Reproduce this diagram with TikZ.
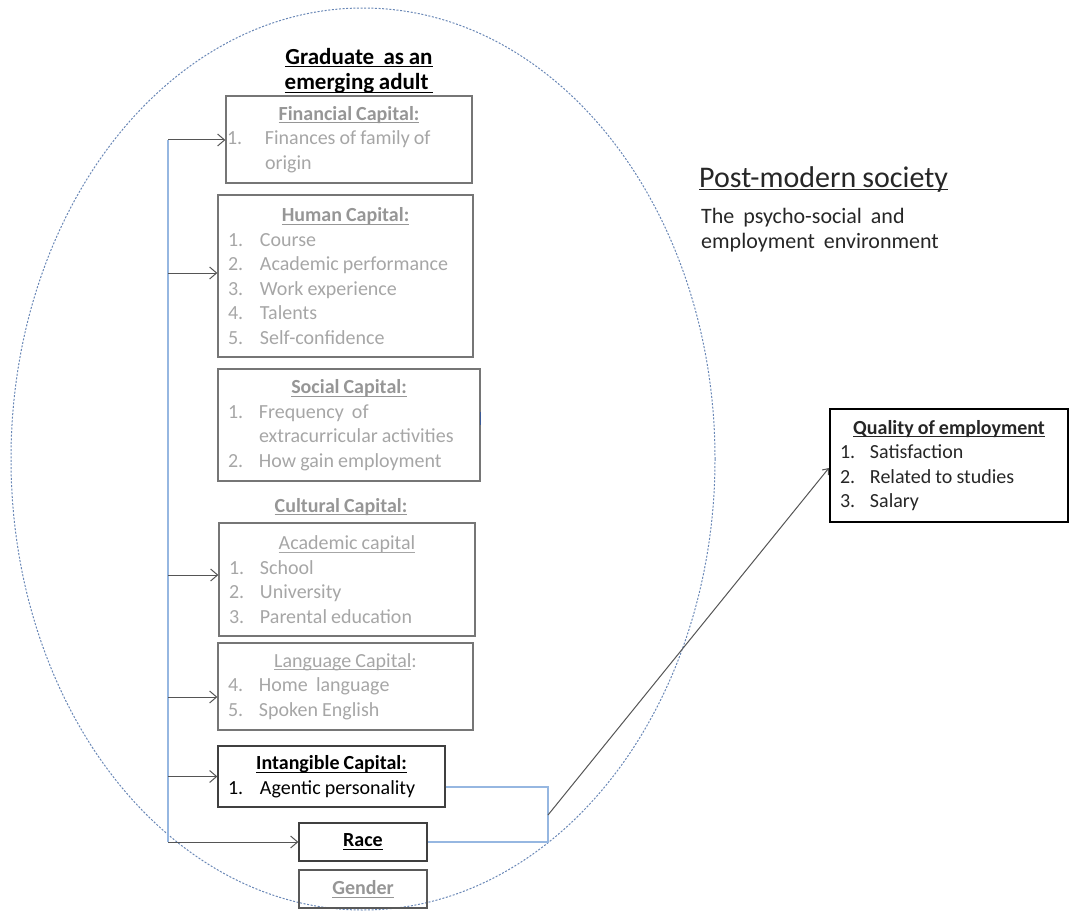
\documentclass[tikz,border=0pt]{standalone}
\usepackage{fontspec}
\setmainfont{Carlito}[WordSpace=0.9]
\usetikzlibrary{arrows.meta,shapes.geometric}
\definecolor{tgray}{RGB}{166,166,166}
\definecolor{hgray}{RGB}{150,150,150}
\definecolor{bgray}{RGB}{118,118,118}
\definecolor{bluel}{RGB}{150,183,225}
\definecolor{ellc}{RGB}{105,135,182}
\definecolor{arrc}{RGB}{85,85,85}
\definecolor{tickblue}{RGB}{60,90,150}
\definecolor{dtext}{RGB}{38,38,38}
\newcommand{\uln}[1]{\setbox0=\hbox{#1}\leavevmode\rlap{\rule[-3pt]{\wd0}{1pt}}\box0}
\newcommand{\bodyf}{\fontsize{20}{24.5}\selectfont}
\newcommand{\itm}[2]{\makebox[#1][l]{#2}}
\newcommand{\hdr}[1]{\spaceskip=0pt\xspaceskip=0pt\relax\hspace*{\fill}#1\hspace*{\fill}\mbox{}}
\tikzset{
  cbox/.style={draw=bgray, line width=1.3pt, rectangle, inner xsep=10pt, inner ysep=2pt,
    align=left, font=\bodyf, text=tgray},
  sbox/.style={draw=bgray, line width=1.3pt, rectangle, inner sep=2pt,
    minimum width=128pt, minimum height=38pt, font=\bodyf\bfseries, align=center},
  bline/.style={draw=bluel, line width=1.4pt},
  arr/.style={draw=arrc, line width=1pt, -{Straight Barb[length=7pt,width=12pt]}},
  qarr/.style={draw=arrc, line width=1pt, -{Straight Barb[length=5pt,width=8pt]}},
}
\begin{document}
\begin{tikzpicture}[x=1pt,y=-1pt]
\useasboundingbox (0,0) rectangle (1073,915);
% environment ellipse
\node[draw=ellc, ellipse, dash pattern=on 2pt off 1.6pt, line width=1pt,
  minimum width=704pt, minimum height=902pt, inner sep=0pt] (envell) at (363,459) {};
% title
\node[font=\fontsize{23}{25.5}\selectfont\bfseries, align=center, text=black] (title) at (359,71)
  {\uln{Graduate\ \ as an}\\\uln{emerging adult\ }};
% boxes
\node[cbox, inner xsep=1pt, text width=244pt, minimum width=246pt, minimum height=87pt] (fin) at (349,139.5)
  {\hdr{\textbf{\color{hgray}\uln{Financial Capital:}}}\\
   \itm{38pt}{1.}Finances of family of\\
   \hspace*{38pt}origin};
\node[cbox, text width=235pt, minimum width=255pt, minimum height=162pt] (hum) at (345.5,276)
  {\hdr{\textbf{\color{hgray}\uln{Human Capital:}}}\\
   \itm{32pt}{1.}Course\\
   \itm{32pt}{2.}Academic performance\\
   \itm{32pt}{3.}Work experience\\
   \itm{32pt}{4.}Talents\\
   \itm{32pt}{5.}Self-confidence};
\node[cbox, text width=242pt, minimum width=262pt, minimum height=112pt] (soc) at (349,425)
  {\hdr{\textbf{\color{hgray}\uln{Social Capital:}}}\\
   \itm{31pt}{1.}Frequency\ \ of\\
   \hspace*{31pt}extracurricular activities\\
   \itm{31pt}{2.}How gain employment};
\node[font=\bodyf\bfseries, text=hgray] (cult) at (341,507) {\uln{Cultural Capital:}};
\node[cbox, text width=236pt, minimum width=256pt, minimum height=113pt] (cul) at (347,579.5)
  {\hdr{\uln{Academic capital}}\\
   \itm{31pt}{1.}School\\
   \itm{31pt}{2.}University\\
   \itm{31pt}{3.}Parental education};
\node[cbox, text width=235pt, minimum width=255pt, minimum height=87pt] (lan) at (345.5,686.5)
  {\hdr{\uln{Language Capital}:}\\
   \itm{31pt}{4.}Home\ \ language\\
   \itm{31pt}{5.}Spoken English};
\node[cbox, draw=black!75, text=black, text width=207pt, minimum width=227pt, minimum height=61pt] (int) at (331.5,776.5)
  {\hdr{\textbf{\uln{Intangible Capital:}}}\\
   \itm{32pt}{1.}Agentic personality};
\node[sbox, draw=black!75, text=black] (race) at (363,842) {\uln{Race}};
\node[sbox, draw=black!65, text=hgray] (gen) at (363,889) {\uln{Gender}};
\node[cbox, draw=black, line width=2.2pt, text=dtext, text width=218pt, minimum width=238pt, minimum height=113pt] (qual) at (949,465.5)
  {\hdr{\textbf{\uln{Quality of employment}}}\\
   \itm{30pt}{1.}Satisfaction\\
   \itm{30pt}{2.}Related to studies\\
   \itm{30pt}{3.}Salary};
% post-modern society
\node[anchor=base west, font=\fontsize{30}{36}\selectfont, text=dtext, inner sep=0pt] (pm) at (699,187) {\uln{Post-modern society}};
\node[anchor=base west, font=\fontsize{22}{26}\selectfont, text=dtext, inner sep=0pt] (pm1) at (701,223) {The\ \ psycho-social\ \ and};
\node[anchor=base west, font=\fontsize{22}{26}\selectfont, text=dtext, inner sep=0pt] (pm2) at (701,248) {employment\ \ environment};
% small tick on social box
\draw[tickblue, line width=1.5pt] ([yshift=13pt]soc.east) -- (soc.east);
% trunk and arrows
\coordinate (trunk) at (168,140);
\coordinate (trunkend) at (168,842);
\draw[bline] (trunk) -- (trunkend);
\coordinate (hw) at ([yshift=3pt]hum.west);
\coordinate (cw) at ([yshift=4.5pt]cul.west);
\coordinate (lw) at ([yshift=-10.5pt]lan.west);
\draw[arr] (trunk) -- (trunk -| fin.west);
\draw[arr] (trunk |- hw) -- (hw);
\draw[arr] (trunk |- cw) -- (cw);
\draw[arr] (trunk |- lw) -- (lw);
\draw[arr] (trunk |- int.west) -- (int.west);
\draw[arr] (trunkend) -- (race.west);
% right-side connectors
\coordinate (ie) at ([yshift=-10.5pt]int.east);
\coordinate (jx) at (548,815);
\draw[bline] (ie) -- (jx |- ie) -- (jx |- race.east) -- (race.east);
\draw[qarr] (jx) -- ([yshift=-2.5pt]qual.west);
\end{tikzpicture}
\end{document}
